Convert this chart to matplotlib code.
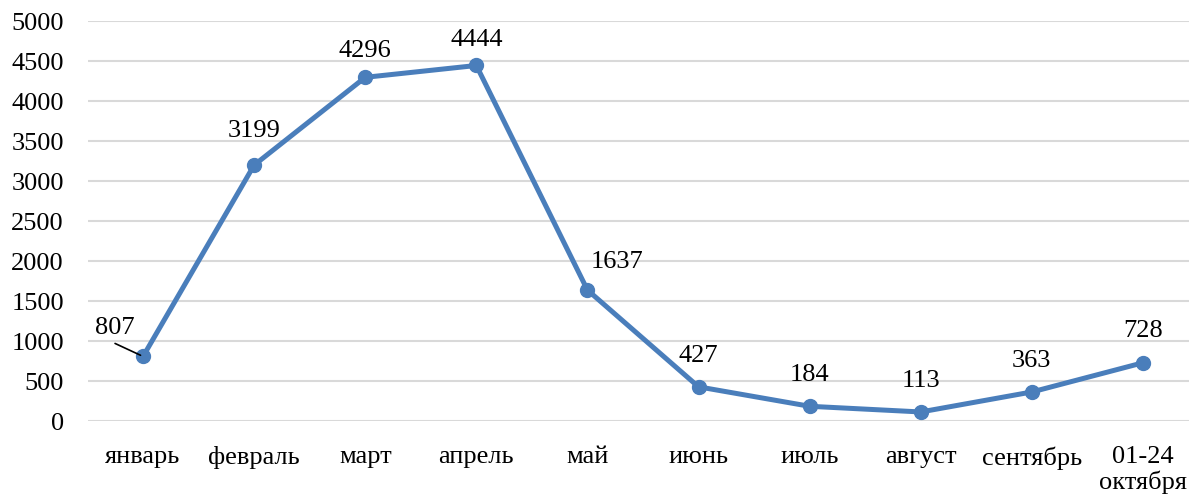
import matplotlib.pyplot as plt

plt.rcParams['font.family'] = ['Liberation Serif', 'DejaVu Serif']

months = ["январь", "февраль", "март", "апрель", "май", "июнь", "июль",
          "август", "сентябрь", "01-24\nоктября"]
values = [807, 3199, 4296, 4444, 1637, 427, 184, 113, 363, 728]
# label offsets in pixels (dx, dy) relative to each point
label_offsets = [(-28, 28), (0, 34), (0, 26), (0, 25), (30, 28), (0, 31),
                 (0, 31), (0, 31), (0, 31), (0, 32)]

color = '#4A7EBB'
fs = 19

fig = plt.figure(figsize=(11.89, 4.95), dpi=100)
ax = fig.add_axes([87.5 / 1189, 1 - 421 / 495, 1 - 87.5 / 1189, 400 / 495])

x = range(len(months))
ax.plot(x, values, color=color, linewidth=3.6, marker='o', markersize=10,
        solid_capstyle='round', zorder=3)

for i, (v, (dx, dy)) in enumerate(zip(values, label_offsets)):
    ax.annotate(str(v), (i, v), xytext=(dx, dy), textcoords='offset pixels',
                ha='center', va='center', fontsize=fs)

# leader line for the January label
ax.annotate("", (0, values[0]), xytext=(-28, 13), textcoords='offset pixels',
            arrowprops=dict(arrowstyle='-', color='black', lw=1.2,
                            shrinkA=0, shrinkB=2))

ax.set_ylim(0, 5000)
ax.set_yticks(range(0, 5001, 500))
ax.set_xlim(-0.5, -0.5 + (1189 - 87.5) / 111.1)
ax.set_xticks(list(x))
ax.set_xticklabels(months, fontsize=fs, linespacing=1.12, va='top')
ax.tick_params(axis='y', labelsize=fs, length=0, pad=17)
ax.tick_params(axis='x', length=0, pad=18)

ax.grid(axis='y', color='#D9D9D9', linewidth=1.5)
ax.set_axisbelow(True)
for s in ax.spines.values():
    s.set_visible(False)

fig.savefig('out.png', dpi=100)
